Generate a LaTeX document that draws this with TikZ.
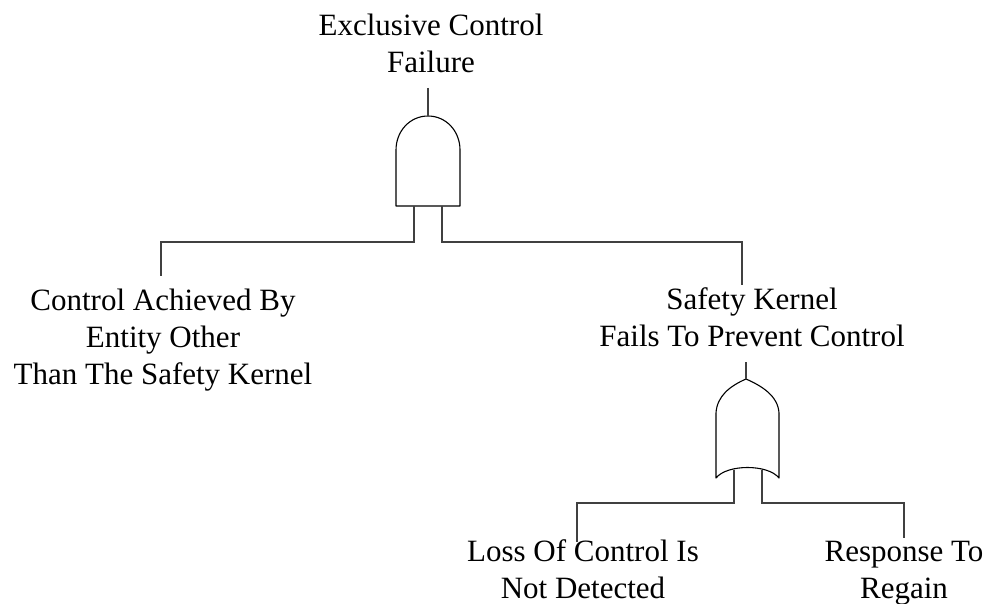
\documentclass[tikz,border=0pt]{standalone}
\usepackage{fontspec}
\setmainfont{Liberation Serif}
\begin{document}
\begin{tikzpicture}[x=1pt,y=-1pt,
  event/.style={align=center,inner sep=0pt,anchor=base,
    font=\fontsize{31}{37}\selectfont},
  gate/.style={draw=black,line width=1.1pt,line join=round},
  wire/.style={draw=black!75,line width=1.2pt}]
\useasboundingbox (0,0) rectangle (987,604);

% event labels (anchored at the baseline of the last line)
\node[event] (top) at (431,73) {Exclusive Control\\Failure};
\node[event] (ent) at (163,384) {Control Achieved By\\Entity Other\\Than The Safety Kernel};
\node[event] (sk)  at (752,346) {Safety Kernel\\Fails To Prevent Control};
\node[event] (los) at (583,598) {Loss Of Control Is\\Not Detected};
\node[event] (rsp) at (904,598) {Response To\\Regain};

% AND gate
\coordinate (andout) at (428,116);
\coordinate (andtop) at (428,88);
\coordinate (andinl) at (414,206);
\coordinate (andinr) at (442,206);
\path[gate] (396,206) -- (396,150)
  .. controls (396,131) and (410,116) .. (andout)
  .. controls (446,116) and (460,131) .. (460,150)
  -- (460,206) -- cycle;

% OR gate
\coordinate (orout) at (746,379);
\coordinate (ortop) at (746,362);
\coordinate (orinl) at (734,469.5);
\coordinate (orinr) at (762,469.5);
\path[gate] (716,478) -- (716,413)
  .. controls (717,396) and (730,386) .. (orout)
  .. controls (762,386) and (778,396) .. (779,413)
  -- (779,478)
  .. controls (768,464) and (727,464) .. cycle;

% connector end points above the labels
\coordinate (entin) at (161,276);
\coordinate (skin)  at (742,285);
\coordinate (losin) at (577,542);
\coordinate (rspin) at (904,538);

% connectors
\path[wire] (andtop) -- (andout);
\path[wire] (andinl) |- (161,242) -- (entin);
\path[wire] (andinr) |- (742,242) -- (skin);
\path[wire] (ortop) -- (orout);
\path[wire] (orinl) |- (577,503) -- (losin);
\path[wire] (orinr) |- (904,503) -- (rspin);
\end{tikzpicture}
\end{document}
